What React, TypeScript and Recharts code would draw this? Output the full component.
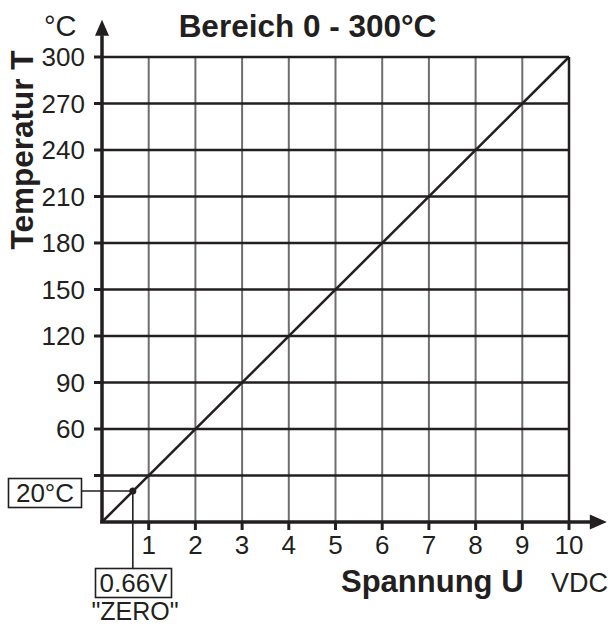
import React from 'react';
import { ComposedChart, Line, XAxis, YAxis, ReferenceLine, ReferenceDot } from 'recharts';

// ---- data ----
const voltage = [0, 10];
const temperature = [0, 300];
const xTicks = [1, 2, 3, 4, 5, 6, 7, 8, 9, 10];
const yTicks = [30, 60, 90, 120, 150, 180, 210, 240, 270, 300];
const verticalGrid = [1, 2, 3, 4, 5, 6, 7, 8, 9];
const zeroVoltage = 0.66;
const zeroTemperature = 20;
const title = 'Bereich 0 - 300°C';
const yTitle = 'Temperatur T';
const yUnit = '°C';
const xTitle = 'Spannung U';
const xUnit = 'VDC';
const zeroTempLabel = '20°C';
const zeroVoltLabel = '0.66V';
const zeroName = '"ZERO"';

const data = voltage.map((u, i) => ({ u, t: temperature[i] }));

const ink = '#231f20';
const gray = '#6d6e71';
const font = '"Liberation Sans", Arial, Helvetica, sans-serif';

const UpArrow = (p: any) => (
  <polygon points={`${p.cx},${p.cy} ${p.cx - 7},${p.cy + 16} ${p.cx + 7},${p.cy + 16}`} fill={ink} />
);
const RightArrow = (p: any) => (
  <polygon points={`${p.cx},${p.cy} ${p.cx - 17},${p.cy - 7.5} ${p.cx - 17},${p.cy + 7.5}`} fill={ink} />
);
const Dot = (p: any) => <circle cx={p.cx} cy={p.cy} r={3.5} fill={ink} />;

export default function App() {
  return (
    <div style={{ position: 'absolute', left: 0, top: 0, width: 608, height: 628, background: '#fff' }}>
      <ComposedChart
        width={608}
        height={628}
        data={data}
        margin={{ top: 57, right: 39, left: 0, bottom: 66 }}
      >
        <XAxis
          dataKey="u"
          type="number"
          domain={[0, 10]}
          ticks={xTicks}
          interval={0}
          height={40}
          axisLine={false}
          tickLine={{ stroke: ink, strokeWidth: 3 }}
          tickSize={8}
          tickMargin={6}
          tick={{ fill: ink, fontSize: 26, fontFamily: font }}
        />
        <YAxis
          dataKey="t"
          type="number"
          domain={[0, 300]}
          ticks={yTicks}
          interval={0}
          width={102}
          axisLine={false}
          tickLine={{ stroke: ink, strokeWidth: 3 }}
          tickSize={8}
          tickMargin={9}
          tickFormatter={(v: number) => (v >= 60 ? String(v) : '')}
          tick={{ fill: ink, fontSize: 26, fontFamily: font }}
        />
        {verticalGrid.map((v) => (
          <ReferenceLine key={'vx' + v} x={v} stroke={gray} strokeWidth={2} ifOverflow="visible" />
        ))}
        {yTicks.map((v) => (
          <ReferenceLine key={'hy' + v} y={v} stroke={ink} strokeWidth={2.5} ifOverflow="visible" />
        ))}
        <ReferenceLine x={10} stroke={ink} strokeWidth={2.5} ifOverflow="visible" />
        {/* axes with arrows */}
        <ReferenceLine
          segment={[{ x: 0, y: -0.6 }, { x: 0, y: 314 }]}
          stroke={ink}
          strokeWidth={3.5}
          ifOverflow="visible"
        />
        <ReferenceLine
          segment={[{ x: -0.04, y: 0 }, { x: 10.5, y: 0 }]}
          stroke={ink}
          strokeWidth={3.5}
          ifOverflow="visible"
        />
        <ReferenceDot x={0} y={324} shape={UpArrow} ifOverflow="visible" />
        <ReferenceDot x={10.81} y={0} shape={RightArrow} ifOverflow="visible" />
        {/* zero annotation connectors */}
        <ReferenceLine
          segment={[{ x: -0.43, y: zeroTemperature }, { x: zeroVoltage, y: zeroTemperature }]}
          stroke={ink}
          strokeWidth={1.6}
          ifOverflow="visible"
        />
        <ReferenceLine
          segment={[{ x: zeroVoltage, y: zeroTemperature }, { x: zeroVoltage, y: -29.7 }]}
          stroke={ink}
          strokeWidth={1.6}
          ifOverflow="visible"
        />
        <Line
          dataKey="t"
          type="linear"
          stroke={ink}
          strokeWidth={2.5}
          dot={false}
          activeDot={false}
          isAnimationActive={false}
        />
        <ReferenceDot x={zeroVoltage} y={zeroTemperature} shape={Dot} ifOverflow="visible" />
      </ComposedChart>
      <svg
        width={608}
        height={628}
        style={{ position: 'absolute', left: 0, top: 0, pointerEvents: 'none' }}
        fontFamily={font}
        fill={ink}
      >
        <text x={307.5} y={36.5} textAnchor="middle" fontWeight="bold" fontSize={31.5}>
          {title}
        </text>
        <text x={44} y={36} fontSize={29}>
          {yUnit}
        </text>
        <text
          x={33}
          y={150}
          textAnchor="middle"
          fontWeight="bold"
          fontSize={31.5}
          transform="rotate(-90 33 150)"
        >
          {yTitle}
        </text>
        <text x={341} y={592} fontWeight="bold" fontSize={31}>
          {xTitle}
        </text>
        <text x={551} y={592} fontSize={27}>
          {xUnit}
        </text>
        <rect x={8.5} y={478.5} width={73} height={29} fill="#fff" stroke={ink} strokeWidth={1.6} />
        <text x={45} y={502} textAnchor="middle" fontSize={26}>
          {zeroTempLabel}
        </text>
        <rect x={95.5} y={568.5} width={76} height={29} fill="#fff" stroke={ink} strokeWidth={1.6} />
        <text x={133.5} y={592} textAnchor="middle" fontSize={26}>
          {zeroVoltLabel}
        </text>
        <text x={135} y={620} textAnchor="middle" fontSize={25}>
          {zeroName}
        </text>
      </svg>
    </div>
  );
}
